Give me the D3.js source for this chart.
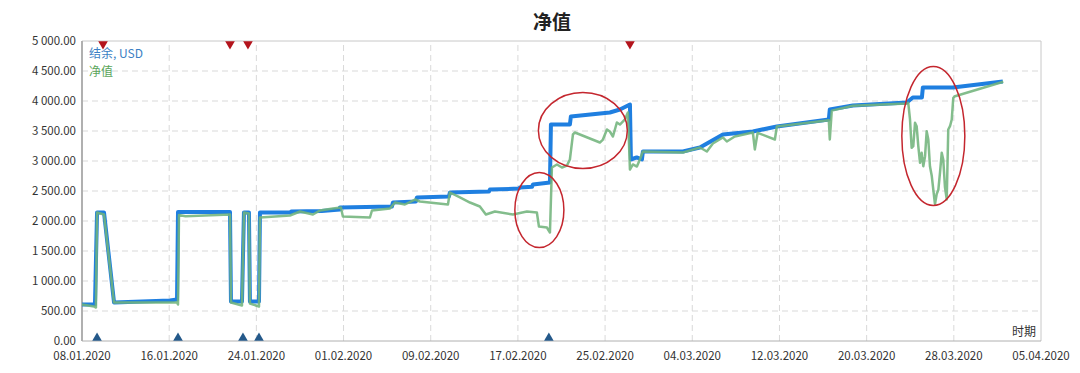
<!DOCTYPE html>
<html>
<head>
<meta charset="utf-8">
<script src="https://cdn.jsdelivr.net/npm/d3@7"></script>
<style>
  body { margin: 0; background: #fff; }
  svg { display: block; font-family: "Noto Sans CJK SC", "Noto Sans", sans-serif; }
</style>
</head>
<body>
<svg id="chart" width="1080" height="373"></svg>
<script>
// 数据：天数（自 2020-01-08 起）与数值
const startDate = new Date(2020, 0, 8);
const endDate = new Date(2020, 3, 5);

// 结余（阶梯状）
const balanceDays = [
  0, 1.19, 1.38, 2.02, 2.94, 8.07, 8.72, 8.81, 13.58, 13.67, 14.68, 14.86, 15.32, 15.41, 16.24,
  16.33, 19.2, 19.2, 22.0, 23.67, 23.67, 28.44, 28.53, 30.64, 30.73, 33.67, 33.76, 37.34, 37.43, 40.1, 40.18, 41.3, 41.38, 42.94,
  43.03, 44.77, 44.86, 48.44, 49.36, 50.28,
  50.37, 50.9, 51.38, 51.47, 55.14, 56.7, 58.81, 61.56, 63.76, 68.53, 68.62, 70.74, 75.69, 76.24, 77.07, 77.16, 79.91, 84.5];
const balanceValues = [
  608, 608, 2142, 2142, 641, 675, 692, 2150, 2150, 658, 658, 2142, 2142, 658, 658,
  2142, 2142, 2158, 2165, 2192, 2225, 2242, 2308, 2325, 2392, 2408, 2475, 2490, 2525, 2540, 2558, 2570, 2608, 2642,
  3608, 3608, 3742, 3808, 3858, 3942,
  3025, 3060, 3025, 3158, 3158, 3225, 3442, 3492, 3575, 3692, 3858, 3925, 3975, 4058, 4058, 4225, 4225, 4325];

// 净值
const equityDays = [
  0, 1.10, 1.28, 1.38, 2.02, 2.94, 8.72, 8.81, 8.90, 9.5, 13.58, 13.67, 14.68, 14.86, 15.32, 15.41, 16.24,
  16.33, 19.08, 20.0, 21.19, 21.83, 23.03, 23.76, 23.94, 26.42, 26.61, 28.26, 28.72, 29.63, 30.55, 31.01,
  33.58, 33.76, 34.68, 35.6, 36.51, 37.06, 37.89, 39.54, 40.83, 41.74, 41.93, 42.66, 42.94,
  43.12, 43.58, 44.04, 44.5, 44.77, 45.05, 45.23, 47.52, 47.8, 48.17, 48.44, 48.72, 49.08, 49.36, 49.82, 50.09,
  50.28, 50.55, 50.92, 51.19, 51.47, 55.14, 55.5, 56.7, 57.34, 57.89, 58.81, 59.17, 59.9, 61.56, 61.74, 62.0, 63.58, 63.76, 68.53, 68.62, 68.8, 70.74, 75.69,
  75.82, 75.98, 76.13, 76.28, 76.44, 76.59, 76.74, 76.9, 77.05, 77.2, 77.36, 77.51, 77.66, 77.81, 77.97,
  78.12, 78.27, 78.43, 78.58, 78.73, 78.89, 79.03, 79.19, 79.35, 79.49, 79.65, 79.81, 79.95, 80.11, 84.54];
const equityValues = [
  608, 575, 558, 2142, 2108, 641, 641, 608, 2100, 2080, 2108, 641, 591, 2142, 2125, 625, 575,
  2058, 2092, 2158, 2108, 2175, 2208, 2225, 2075, 2058, 2175, 2208, 2308, 2275, 2358, 2325,
  2275, 2475, 2392, 2308, 2242, 2108, 2158, 2108, 2158, 2142, 1908, 1892, 1808,
  2892, 2942, 2892, 2925, 3025, 3442, 3475, 3308, 3358, 3525, 3492, 3408, 3642, 3608, 3692, 3808,
  2858, 2942, 2908, 3025, 3158, 3142, 3160, 3225, 3158, 3292, 3392, 3325, 3408, 3475, 3192, 3470, 3358, 3575, 3680, 3358, 3840, 3920, 3958,
  3970, 3692, 3220, 3247, 3637, 3580, 3247, 2970, 3137, 2913, 3080, 3497, 3358, 2913, 2760,
  2520, 2280, 2450, 2520, 2803, 3137, 3025, 2560, 2360, 3525, 3580, 3692, 4053, 4080, 4320];

// 进出场标记（天数）
const sellMarks = [1.93, 13.58, 15.23, 50.28];
const buyMarks = [1.38, 8.81, 14.77, 16.24, 42.84];

// 红色圈注：中心天数、中心数值、半径（天）、半径（数值）
const circleDays = [41.97, 45.96, 78.12];
const circleValues = [2183, 3508, 3417];
const circleRadDays = [2.25, 4.08, 2.89];
const circleRadValues = [625, 633, 1158];

const yTicks = [0, 500, 1000, 1500, 2000, 2500, 3000, 3500, 4000, 4500, 5000];

const toDate = d => new Date(startDate.getTime() + d * 86400000);

const svg = d3.select("#chart");
const margin = { left: 82, right: 39, top: 41, bottom: 32 };
const W = 1080, H = 373;

const x = d3.scaleTime().domain([startDate, endDate]).range([margin.left, W - margin.right]);
const y = d3.scaleLinear().domain([0, 5000]).range([H - margin.bottom, margin.top]);

const xTicks = d3.range(0, 89, 8).map(toDate);
const fmtY = v => d3.format(",.2f")(v).replace(/,/g, " ");
const fmtX = d3.timeFormat("%d.%m.%Y");

// 网格
svg.append("g").selectAll("line").data(yTicks.filter(v => v > 0 && v < 5000)).join("line")
  .attr("x1", x.range()[0]).attr("x2", x.range()[1])
  .attr("y1", d => y(d)).attr("y2", d => y(d))
  .attr("stroke", "#d9d9d9").attr("stroke-dasharray", "6,4");
svg.append("g").selectAll("line").data(xTicks.slice(1, -1)).join("line")
  .attr("x1", d => x(d)).attr("x2", d => x(d))
  .attr("y1", y(0)).attr("y2", y(5000))
  .attr("stroke", "#d9d9d9").attr("stroke-dasharray", "6,4");

// 边框
svg.append("line").attr("x1", x.range()[0]).attr("x2", x.range()[1]).attr("y1", y(5000)).attr("y2", y(5000)).attr("stroke", "#c8c8c8");
svg.append("line").attr("x1", x.range()[1]).attr("x2", x.range()[1]).attr("y1", y(5000)).attr("y2", y(0)).attr("stroke", "#c8c8c8");
svg.append("line").attr("x1", x.range()[0]).attr("x2", x.range()[1]).attr("y1", y(0)).attr("y2", y(0)).attr("stroke", "#b0b0b0");
svg.append("line").attr("x1", x.range()[0]).attr("x2", x.range()[0]).attr("y1", y(5000)).attr("y2", y(0)).attr("stroke", "#b0b0b0").attr("stroke-width", 2);

// 坐标轴文字
svg.append("g").selectAll("text").data(yTicks).join("text")
  .attr("x", 76).attr("y", d => y(d) + 4)
  .attr("text-anchor", "end").attr("font-size", 11.5).attr("fill", "#333")
  .text(fmtY);
svg.append("g").selectAll("text").data(xTicks).join("text")
  .attr("x", d => x(d)).attr("y", 360)
  .attr("text-anchor", "middle").attr("font-size", 11.5).attr("fill", "#333")
  .text(fmtX);

// 曲线
const line = d3.line().x(d => x(toDate(d[0]))).y(d => y(d[1]));
svg.append("path").datum(d3.zip(balanceDays, balanceValues))
  .attr("d", line).attr("fill", "none")
  .attr("stroke", "#1f7fe0").attr("stroke-width", 4).attr("stroke-linejoin", "round");
svg.append("path").datum(d3.zip(equityDays, equityValues))
  .attr("d", line).attr("fill", "none")
  .attr("stroke", "#72b47c").attr("stroke-opacity", 0.88).attr("stroke-width", 2.5).attr("stroke-linejoin", "round");

// 标记
const tri = d3.symbol().type(d3.symbolTriangle).size(40);
svg.append("g").selectAll("path").data(sellMarks).join("path")
  .attr("d", tri)
  .attr("transform", d => `translate(${x(toDate(d))},${y(5000) + 3}) rotate(180)`)
  .attr("fill", "#b3141c");
svg.append("g").selectAll("path").data(buyMarks).join("path")
  .attr("d", tri)
  .attr("transform", d => `translate(${x(toDate(d))},${y(0) - 3})`)
  .attr("fill", "#24598a");

// 圈注
svg.append("g").selectAll("ellipse").data(d3.range(circleDays.length)).join("ellipse")
  .attr("cx", i => x(toDate(circleDays[i])))
  .attr("cy", i => y(circleValues[i]))
  .attr("rx", i => x(toDate(circleRadDays[i])) - x(startDate))
  .attr("ry", i => y(0) - y(circleRadValues[i]))
  .attr("fill", "none").attr("stroke", "#c4262e").attr("stroke-width", 1.5);

// 标题和图例
svg.append("text").attr("x", 552).attr("y", 29).attr("text-anchor", "middle")
  .attr("font-size", 19).attr("font-weight", "bold").attr("fill", "#222").text("净值");
svg.append("text").attr("x", 89).attr("y", 58).attr("font-size", 12).attr("fill", "#3b7fc4").text("结余, USD");
svg.append("text").attr("x", 89).attr("y", 76).attr("font-size", 12).attr("fill", "#5aa55a").text("净值");
svg.append("text").attr("x", 1036).attr("y", 336).attr("text-anchor", "end").attr("font-size", 12).attr("fill", "#333").text("时期");
</script>
</body>
</html>
